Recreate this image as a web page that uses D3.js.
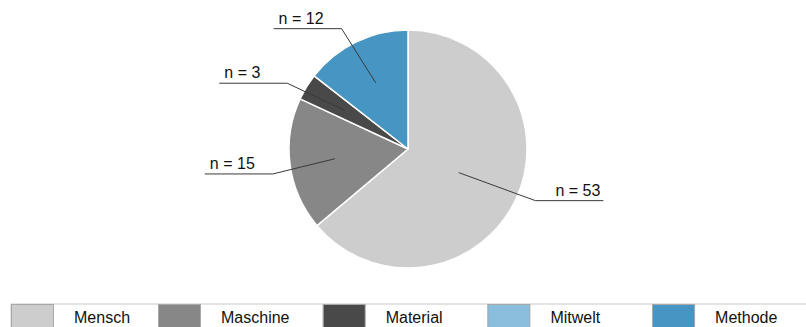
<!DOCTYPE html>
<html><head><meta charset="utf-8">
<script src="https://cdn.jsdelivr.net/npm/d3@7"></script>
<style>
html,body{margin:0;padding:0;background:#fff;}
svg{display:block;font-family:"Liberation Sans",Arial,Helvetica,sans-serif;}
</style></head>
<body>
<svg id="chart" width="806" height="327"></svg>
<script>
const categories = ["Mensch", "Maschine", "Material", "Mitwelt", "Methode"];
const values = [53, 15, 3, 0, 12];
const labels = ["n = 53", "n = 15", "n = 3", "", "n = 12"];
const colors = ["#cdcdcd", "#878787", "#494949", "#8bbddd", "#4795c2"];

const svg = d3.select("#chart");
const cx = 408, cy = 149, R = 119;

const data = categories.map((c, i) => ({cat: c, value: values[i], label: labels[i], color: colors[i]}));

const pie = d3.pie().value(d => d.value).sort(null).startAngle(0).endAngle(2 * Math.PI);
const arcs = pie(data);
const arc = d3.arc().innerRadius(0).outerRadius(R);

const g = svg.append("g").attr("transform", `translate(${cx},${cy})`);
g.selectAll("path.slice").data(arcs.filter(d => d.data.value > 0)).enter()
  .append("path").attr("class", "slice")
  .attr("d", arc)
  .attr("fill", d => d.data.color)
  .attr("stroke", "#fff").attr("stroke-width", 1.5).attr("stroke-linejoin", "round");

// leader lines
const innerFrac = d => d.data.value > 40 ? 0.47 : 0.62;
const lblG = g.append("g");
arcs.filter(d => d.data.value > 0).forEach(d => {
  const mid = (d.startAngle + d.endAngle) / 2;
  const ri = R * innerFrac(d);
  const p0 = [ri * Math.sin(mid), -ri * Math.cos(mid)];
  const ea = mid - 0.05, re = R * 1.155;
  const p1 = [re * Math.sin(ea), -re * Math.cos(ea)];
  const right = Math.sin(mid) > 0;
  const p2 = [p1[0] + (right ? 68 : -68), p1[1]];
  lblG.append("polyline")
    .attr("points", [p0, p1, p2].map(p => p.join(",")).join(" "))
    .attr("fill", "none").attr("stroke", "#3a3a3a").attr("stroke-width", 1);
  lblG.append("text")
    .attr("x", right ? p2[0] - 3 : p2[0] + 5)
    .attr("y", p1[1] - 5)
    .attr("text-anchor", right ? "end" : "start")
    .attr("font-size", 16).attr("fill", "#111")
    .text(d.data.label);
});

// legend
const legTop = 304, legH = 32, swW = 42;
const legX = i => i === 0 ? 11 : 158 + (i - 1) * 164.7;
const boxEnd = i => i < categories.length - 1 ? legX(i + 1) : 806;
const leg = svg.append("g");
leg.append("rect").attr("x", 11).attr("y", legTop).attr("width", 800).attr("height", legH)
  .attr("fill", "#fff").attr("stroke", "#c9c9c9").attr("stroke-width", 1);
data.forEach((d, i) => {
  leg.append("rect").attr("x", legX(i) + 0.5).attr("y", legTop + 0.5)
    .attr("width", swW).attr("height", legH)
    .attr("fill", d.color).attr("stroke", "#a8a8a8").attr("stroke-width", 1);
  leg.append("line").attr("x1", boxEnd(i) + 0.5).attr("x2", boxEnd(i) + 0.5)
    .attr("y1", legTop).attr("y2", legTop + legH).attr("stroke", "#d0d0d0");
  leg.append("text").attr("x", legX(i) + swW + 21).attr("y", 323)
    .attr("font-size", 16).attr("fill", "#111").text(d.cat);
});
</script>
</body></html>
